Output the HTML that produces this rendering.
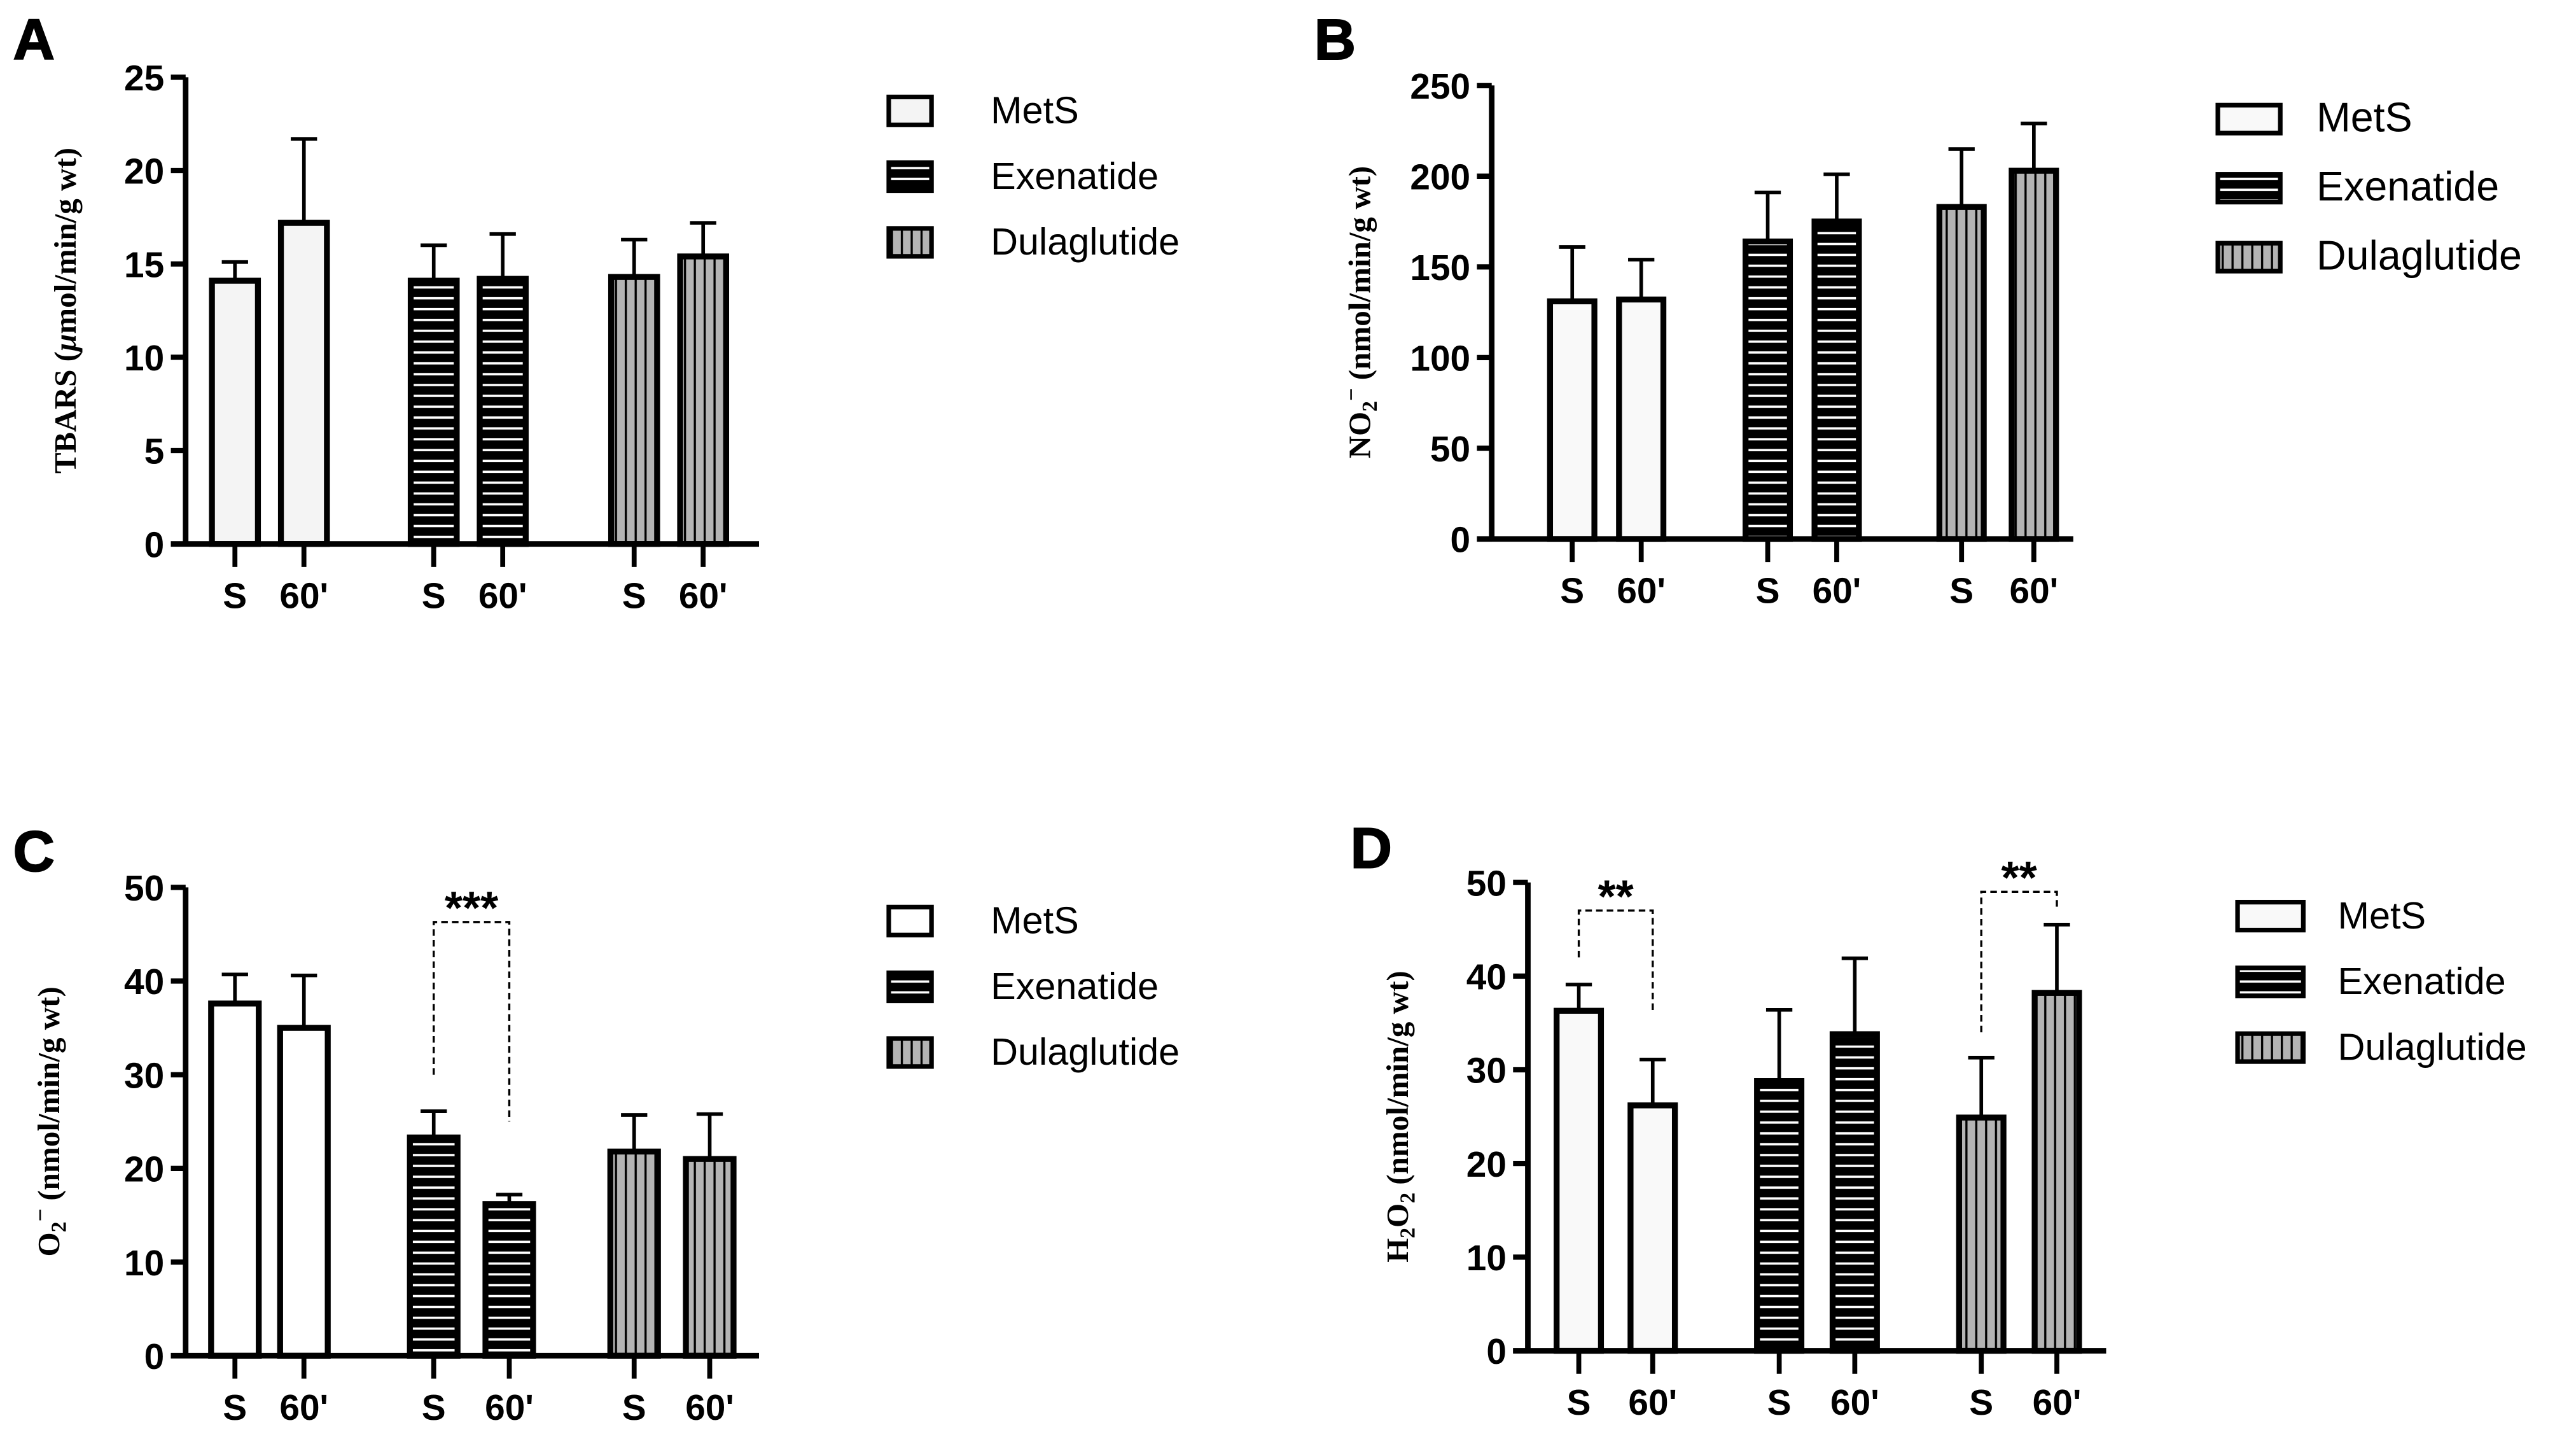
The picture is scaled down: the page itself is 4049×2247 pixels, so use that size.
<!DOCTYPE html>
<html><head><meta charset="utf-8"><style>
html,body{margin:0;padding:0;background:#fff;}
svg{display:block;}
</style></head><body>
<svg id="fig" width="4049" height="2247" viewBox="0 0 1568 870.2" preserveAspectRatio="none" xmlns="http://www.w3.org/2000/svg">
<defs>
<pattern id="hstripe" patternUnits="userSpaceOnUse" width="6" height="6.6"><rect width="6" height="6.6" fill="#000"/><rect y="2.6" width="6" height="1.4" fill="#fff"/></pattern>
<pattern id="vstripe" patternUnits="userSpaceOnUse" width="6" height="6"><rect width="6" height="6" fill="#b4b4b4"/><rect x="2.3" width="1.3" height="6" fill="#000"/></pattern>
</defs>
</svg>
<script>
// Panel A
const catsA = ["S","60'","S","60'","S","60'"];
const valsA = [14.1,17.2,14.1,14.2,14.3,15.4];
const errsA = [1.0,4.5,1.9,2.4,2.0,1.8];
const ticksA = [0,5,10,15,20,25];
// Panel B
const valsB = [131,132,164,175,183,203];
const errsB = [30,22,27,26,32,26];
const ticksB = [0,50,100,150,200,250];
// Panel C
const valsC = [37.6,35.0,23.3,16.2,21.8,21.0];
const errsC = [3.1,5.6,2.8,1.0,3.9,4.8];
const ticksC = [0,10,20,30,40,50];
// Panel D
const valsD = [36.3,26.2,28.8,33.8,24.9,38.2];
const errsD = [2.8,4.9,7.6,8.1,6.4,7.3];
const ticksD = [0,10,20,30,40,50];
const legendLabels = ["MetS","Exenatide","Dulaglutide"];

const NS="http://www.w3.org/2000/svg";
const svg=document.getElementById('fig');
function mk(tag,attrs,parent){const e=document.createElementNS(NS,tag);for(const k in attrs)e.setAttribute(k,attrs[k]);(parent||svg).appendChild(e);return e;}
const fills=["#f6f6f6","url(#hstripe)","url(#vstripe)"];

function panel(p){
  const g=mk('g',{});
  
  
  const max=p.ticks[p.ticks.length-1];
  const y=v=>p.y0-(v/max)*(p.y0-p.yTop);
  const t=mk('text',{x:p.lx,y:p.ly,'font-family':'Liberation Sans, sans-serif','font-weight':'bold','font-size':35,stroke:'#000','stroke-width':0.8},g);
  t.textContent=p.id;  
  p.vals.forEach((v,i)=>{
    const cx=p.xs[i];
    const b=mk('rect',{x:cx-p.bw/2,y:y(v),width:p.bw,height:p.y0-y(v),fill:i<2?p.metsFill:fills[Math.floor(i/2)],stroke:'#000','stroke-width':3.6},g);
     
    const e=mk('path',{d:`M${cx},${y(v)}V${y(v+p.errs[i])}M${cx-8},${y(v+p.errs[i])}H${cx+8}`,stroke:'#000','stroke-width':2.2,fill:'none'},g);
     
    const tk=mk('line',{x1:cx,x2:cx,y1:p.y0,y2:p.y0+14,stroke:'#000','stroke-width':3},g);
     
    const xl=mk('text',{x:cx,y:p.y0+39,'text-anchor':'middle','font-family':'Liberation Sans, sans-serif','font-weight':'bold','font-size':22},g);
    xl.textContent=catsA[i];  
  });
  const ax=mk('path',{d:`M${p.ax},${p.yTop}V${p.y0}M${p.ax-9},${p.y0}H${p.xEnd}`,stroke:'#000','stroke-width':3.4,fill:'none'},g);
   
  p.ticks.forEach(v=>{
    const l=mk('line',{x1:p.ax-9,x2:p.ax,y1:y(v),y2:y(v),stroke:'#000','stroke-width':3.2},g);
     
    const tl=mk('text',{x:p.ax-13,y:y(v)+8,'text-anchor':'end','font-family':'Liberation Sans, sans-serif','font-weight':'bold','font-size':22},g);
    tl.textContent=v;  
  });
  const yt=mk('text',{x:0,y:0,transform:`translate(${p.tx},${(p.yTop+p.y0)/2}) rotate(-90)`,'text-anchor':'middle','font-family':'Liberation Serif, serif','font-weight':'bold','font-size':19},g);
  yt.innerHTML=p.title;  
  legendLabels.forEach((s,i)=>{
    const ly=p.legY+i*p.legGap;
    const r=mk('rect',{x:p.legX,y:ly-8,width:p.legW,height:17,fill:i==0?p.metsFill:fills[i],stroke:'#000','stroke-width':2.8},g);
     
    const lt=mk('text',{x:p.legX+p.legW+p.legGapX,y:ly+8,'font-family':'Liberation Sans, sans-serif','font-size':p.legFs},g);
    lt.textContent=s;  
  });
  (p.sig||[]).forEach(s=>{
    const x1=p.xs[s.i],x2=p.xs[s.j];
    const br=mk('path',{d:`M${x1},${y(s.l)}V${y(s.top)}H${x2}V${y(s.r)}`,stroke:'#000','stroke-width':1.3,'stroke-dasharray':'4,2.5',fill:'none'},g);
     
    const st=mk('text',{x:(x1+x2)/2,y:y(s.top)+1,'text-anchor':'middle','font-family':'Liberation Sans, sans-serif','font-weight':'bold','font-size':28},g);
    st.textContent=s.text;  
  });
}
panel({id:'A',lx:8,ly:36,vals:valsA,errs:errsA,ticks:ticksA,ax:113,yTop:47,y0:331,xEnd:462,xs:[143,185,264,306,386,428],bw:28,metsFill:'#f4f4f4',tx:46,title:'TBARS (<tspan font-style="italic">μ</tspan>mol/min/g wt)',legX:541,legY:67,legGap:40,legW:26,legGapX:36,legFs:23});
panel({id:'B',lx:800,ly:36,vals:valsB,errs:errsB,ticks:ticksB,ax:908,yTop:52,y0:328,xEnd:1262,xs:[957,999,1076,1118,1194,1238],bw:27,metsFill:'#f9f9f9',tx:834,title:'NO<tspan font-size="13" dy="4">2</tspan><tspan dy="-11" font-size="14">−</tspan><tspan dy="7"> (nmol/min/g wt)</tspan>',legX:1350,legY:72,legGap:42,legW:38,legGapX:22,legFs:25});
panel({id:'C',lx:8,ly:530,vals:valsC,errs:errsC,ticks:ticksC,ax:113,yTop:540,y0:825,xEnd:462,xs:[143,185,264,310,386,432],bw:29,metsFill:'#ffffff',tx:36,title:'O<tspan font-size="13" dy="4">2</tspan><tspan dy="-11" font-size="14">−</tspan><tspan dy="7"> (nmol/min/g wt)</tspan>',legX:541,legY:560,legGap:40,legW:26,legGapX:36,legFs:23,sig:[{i:2,j:3,l:30,top:46.3,r:25,text:'***'}]});
panel({id:'D',lx:822,ly:528,vals:valsD,errs:errsD,ticks:ticksD,ax:930,yTop:537,y0:822,xEnd:1282,xs:[961,1006,1083,1129,1206,1252],bw:27,metsFill:'#f9f9f9',tx:857,title:'H<tspan font-size="13" dy="4">2</tspan><tspan dy="-4">O</tspan><tspan font-size="13" dy="4">2</tspan><tspan dy="-4"> (nmol/min/g wt)</tspan>',legX:1362,legY:557,legGap:40,legW:40,legGapX:21,legFs:23,sig:[{i:0,j:1,l:42,top:47,r:36,text:'**'},{i:4,j:5,l:34,top:49,r:47,text:'**'}]});
</script>
</body></html>
